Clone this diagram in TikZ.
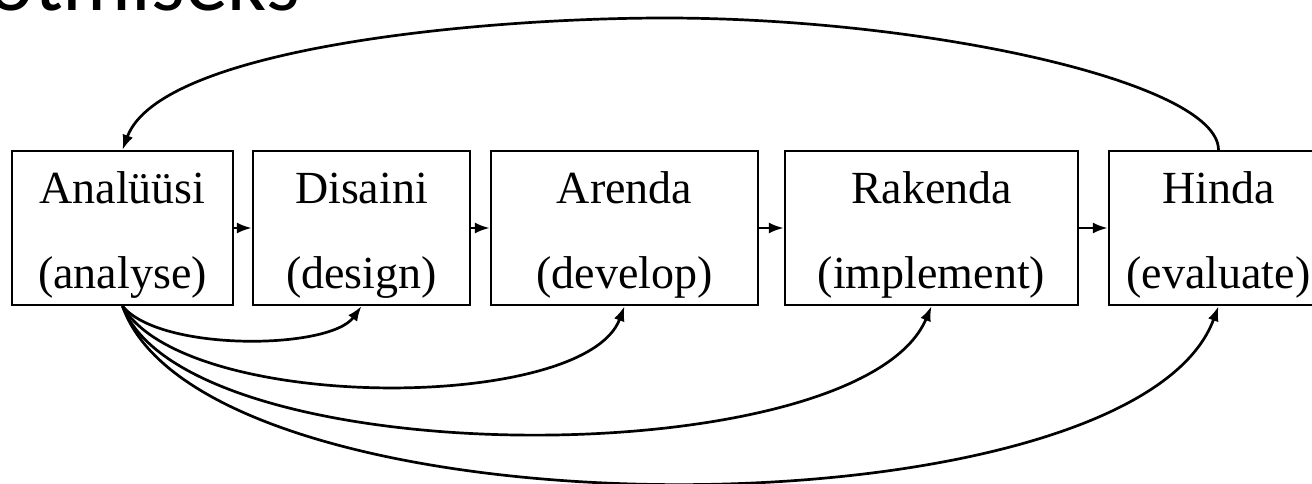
\documentclass[tikz,border=0pt]{standalone}
\usepackage{fontspec}
\setmainfont{Liberation Serif}
\newfontfamily\titlefont{Carlito}
\usetikzlibrary{arrows.meta}
\begin{document}
\begin{tikzpicture}[x=1pt,y=-1pt,
  box/.style={draw=black, line width=2.2pt, rectangle, inner sep=0pt},
  lbl/.style={anchor=base, inner sep=0pt, font=\fontsize{46}{50}\selectfont},
  conn/.style={draw=black, line width=2.7pt, -{Latex[length=15pt,width=11pt]}},
  plain/.style={draw=black, line width=2.7pt}]
\useasboundingbox (0,0) rectangle (1312,484);
\fill[white] (0,0) rectangle (1312,484);

\node[anchor=base east, inner sep=0pt, font=\titlefont\fontsize{86}{90}\selectfont] (title) at (300,11) {otmiseks};

% boxes
\node[box, minimum width=221pt, minimum height=154pt] (n1) at (122.5,228) {};
\node[box, minimum width=217pt, minimum height=154pt] (n2) at (361.5,228) {};
\node[box, minimum width=267pt, minimum height=154pt] (n3) at (624.5,228) {};
\node[box, minimum width=293pt, minimum height=154pt] (n4) at (931.5,228) {};
\node[box, minimum width=219pt, minimum height=154pt] (n5) at (1218.5,228) {};

% labels
\node[lbl] (t1a) at (122.5,204) {Analüüsi};
\node[lbl] (t1b) at (122.5,288) {(analyse)};
\node[lbl] (t2a) at (361.5,204) {Disaini};
\node[lbl] (t2b) at (361.5,288) {(design)};
\node[lbl] (t3a) at (624.5,204) {Arenda};
\node[lbl] (t3b) at (624.5,288) {(develop)};
\node[lbl] (t4a) at (931.5,204) {Rakenda};
\node[lbl] (t4b) at (931.5,288) {(implement)};
\node[lbl] (t5a) at (1218.5,204) {Hinda};
\node[lbl] (t5b) at (1218.5,288) {(evaluate)};

% straight arrows
\draw[conn] (n1.east) -- (n2.west);
\draw[conn] (n2.east) -- (n3.west);
\draw[conn] (n3.east) -- (n4.west);
\draw[conn] (n4.east) -- (n5.west);

% top feedback curve
\coordinate (peak) at (665,18);
\draw[conn] (n5.north) .. controls (1218,82) and (925,18) .. (peak)
   .. controls (480,18) and (160,48) .. (n1.north);

% bottom curves
\draw[conn] (n1.south) .. controls (160,352) and (330,350) .. (n2.south);
\draw[conn] (n1.south) .. controls (184,413) and (585,413) .. (n3.south);
\draw[conn] (n1.south) .. controls (188,476) and (860,476) .. (n4.south);
\draw[conn] (n1.south) .. controls (205,542) and (1132,542) .. (n5.south);
\end{tikzpicture}
\end{document}
